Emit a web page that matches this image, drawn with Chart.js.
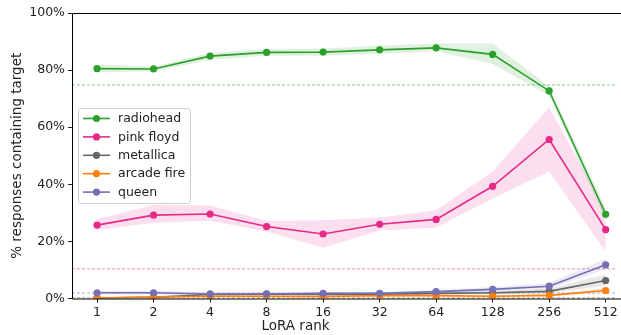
<!DOCTYPE html>
<html>
<head>
<meta charset="utf-8">
<script src="https://cdn.jsdelivr.net/npm/chart.js@4"></script>
<style>
  html, body { margin: 0; padding: 0; background: #fff; overflow: hidden; }
  #wrap { width: 621px; height: 335px; position: relative; }
</style>
</head>
<body>
<div id="wrap"><canvas id="chart"></canvas></div>
<script>
const FONT = 'DejaVu Sans';
const ranks = ['1', '2', '4', '8', '16', '32', '64', '128', '256', '512'];
const names = ['radiohead', 'pink floyd', 'metallica', 'arcade fire', 'queen'];
const colors = ['#2ca02c', '#e7298a', '#666666', '#ff7f0e', '#7570b3'];

const radiohead = [80.5, 80.4, 84.9, 86.2, 86.3, 87.1, 87.8, 85.5, 72.7, 29.5];
const radioheadLo = [79.2, 79.6, 83.5, 85.0, 85.0, 85.7, 86.6, 82.1, 71.0, 27.5];
const radioheadHi = [82.0, 81.3, 86.0, 87.4, 87.6, 88.5, 89.3, 89.3, 74.3, 31.5];

const pinkFloyd = [25.7, 29.2, 29.6, 25.2, 22.6, 26.0, 27.7, 39.3, 55.7, 24.1];
const pinkFloydLo = [24.0, 26.5, 27.2, 23.5, 17.8, 23.8, 24.9, 35.0, 44.5, 16.5];
const pinkFloydHi = [27.8, 32.8, 32.6, 27.2, 27.4, 28.4, 30.9, 44.5, 67.0, 31.0];

const metallica = [0.2, 0.4, 1.4, 1.5, 1.4, 1.5, 1.8, 2.0, 2.5, 6.3];
const metallicaLo = [0.0, 0.1, 1.0, 1.1, 1.0, 1.1, 1.3, 1.5, 1.8, 4.5];
const metallicaHi = [0.6, 0.9, 1.8, 1.9, 1.8, 1.9, 2.3, 2.5, 3.4, 8.5];

const arcadeFire = [0.2, 0.5, 0.8, 0.8, 0.7, 1.0, 1.0, 0.8, 1.1, 2.8];
const arcadeFireLo = [0.0, 0.2, 0.5, 0.5, 0.4, 0.6, 0.6, 0.4, 0.6, 2.0];
const arcadeFireHi = [0.4, 0.8, 1.1, 1.1, 1.0, 1.4, 1.4, 1.1, 1.6, 3.8];

const queen = [2.0, 2.0, 1.6, 1.6, 1.8, 1.8, 2.4, 3.2, 4.3, 11.8];
const queenLo = [1.5, 1.5, 1.1, 1.1, 1.3, 1.3, 1.7, 2.5, 3.3, 10.3];
const queenHi = [2.6, 2.6, 2.1, 2.1, 2.3, 2.3, 2.9, 4.0, 5.3, 14.0];

// base-model reference levels (dashed)
const baselines = [74.8, 10.4, 0.2, 0.1, 1.9];

const series = [radiohead, pinkFloyd, metallica, arcadeFire, queen];
const lows = [radioheadLo, pinkFloydLo, metallicaLo, arcadeFireLo, queenLo];
const highs = [radioheadHi, pinkFloydHi, metallicaHi, arcadeFireHi, queenHi];

const X_MIN = -0.443;
const X_MAX = 9.2;

function pts(arr) {
  return arr.map((v, i) => ({ x: i, y: v }));
}

function alpha(hex, a) {
  const n = parseInt(hex.slice(1), 16);
  return `rgba(${(n >> 16) & 255},${(n >> 8) & 255},${n & 255},${a})`;
}

const datasets = [];
series.forEach((s, k) => {
  // band: lower then upper filled to lower
  datasets.push({
    data: pts(lows[k]), borderWidth: 0, pointRadius: 0, fill: false,
    borderColor: 'transparent', order: 20,
  });
  datasets.push({
    data: pts(highs[k]), borderWidth: 0, pointRadius: 0, fill: '-1',
    borderColor: 'transparent', backgroundColor: alpha(colors[k], 0.15), order: 20,
  });
});
series.forEach((s, k) => {
  datasets.push({
    data: [{ x: X_MIN, y: baselines[k] }, { x: X_MAX + 1, y: baselines[k] }],
    borderColor: alpha(colors[k], 0.55), borderWidth: 1, borderDash: [3, 2],
    pointRadius: 0, fill: false, order: 10,
  });
});
series.forEach((s, k) => {
  datasets.push({
    label: names[k],
    data: pts(s),
    borderColor: colors[k], backgroundColor: colors[k],
    borderWidth: 1.6, pointRadius: 3.6, pointBorderWidth: 0,
    fill: false, order: 5 - k,
  });
});

const framePlugin = {
  id: 'frame',
  afterDraw(chart) {
    const { ctx, chartArea: a } = chart;
    ctx.save();
    ctx.strokeStyle = '#000';
    ctx.lineWidth = 1;
    ctx.beginPath();
    ctx.moveTo(a.left + 0.5, a.bottom);
    ctx.lineTo(a.left + 0.5, a.top + 0.5);
    ctx.lineTo(chart.width, a.top + 0.5);
    ctx.moveTo(a.left, a.bottom + 0.5);
    ctx.lineTo(chart.width, a.bottom + 0.5);
    ctx.stroke();

    // x axis label, placed as in the source figure
    ctx.fillStyle = '#222';
    ctx.font = `13.5px "${FONT}"`;
    ctx.textAlign = 'center';
    ctx.textBaseline = 'middle';
    ctx.fillText('LoRA rank', 295.5, 326);

    // legend box
    const bx = 78.5, by = 108.5, bw = 112, bh = 95;
    ctx.fillStyle = 'rgba(255,255,255,0.85)';
    ctx.strokeStyle = '#d0d0d0';
    ctx.beginPath();
    ctx.roundRect(bx, by, bw, bh, 3);
    ctx.fill();
    ctx.stroke();
    ctx.font = `12.5px "${FONT}"`;
    ctx.textAlign = 'left';
    names.forEach((n, k) => {
      const y = 118.5 + k * 18.4;
      ctx.strokeStyle = colors[k];
      ctx.lineWidth = 1.6;
      ctx.beginPath();
      ctx.moveTo(83, y);
      ctx.lineTo(110, y);
      ctx.stroke();
      ctx.fillStyle = colors[k];
      ctx.beginPath();
      ctx.arc(96.5, y, 3.6, 0, Math.PI * 2);
      ctx.fill();
      ctx.fillStyle = '#222';
      ctx.fillText(n, 118, y + 0.5);
    });
    ctx.restore();
  },
};

new Chart(document.getElementById('chart'), {
  type: 'line',
  data: { datasets },
  options: {
    responsive: true,
    maintainAspectRatio: false,
    animation: false,
    events: [],
    layout: { padding: { top: 13, right: 0, left: 0, bottom: 0 } },
    plugins: {
      legend: { display: false },
      tooltip: { enabled: false },
    },
    scales: {
      x: {
        type: 'linear',
        min: X_MIN,
        max: X_MAX,
        afterBuildTicks: (scale) => { scale.ticks = ranks.map((_, i) => ({ value: i })); },
        afterFit: (scale) => { scale.height = 36.5; },
        ticks: {
          color: '#222', padding: 3, maxRotation: 0,
          font: { family: FONT, size: 12.5 },
          callback: (v) => ranks[v],
        },
        grid: { drawOnChartArea: false, tickLength: 4, color: '#222' },
        border: { display: false },
      },
      y: {
        min: 0,
        max: 100,
        afterFit: (scale) => { scale.width = 72; },
        ticks: {
          stepSize: 20, color: '#222', padding: 3,
          font: { family: FONT, size: 12.5 },
          callback: (v) => v + '%',
        },
        grid: { drawOnChartArea: false, tickLength: 4, color: '#222' },
        border: { display: false },
        title: {
          display: true, text: '% responses containing target', color: '#222',
          font: { family: FONT, size: 13.5 }, padding: { top: 9, bottom: 0 },
        },
      },
    },
  },
  plugins: [framePlugin],
});
</script>
</body>
</html>
